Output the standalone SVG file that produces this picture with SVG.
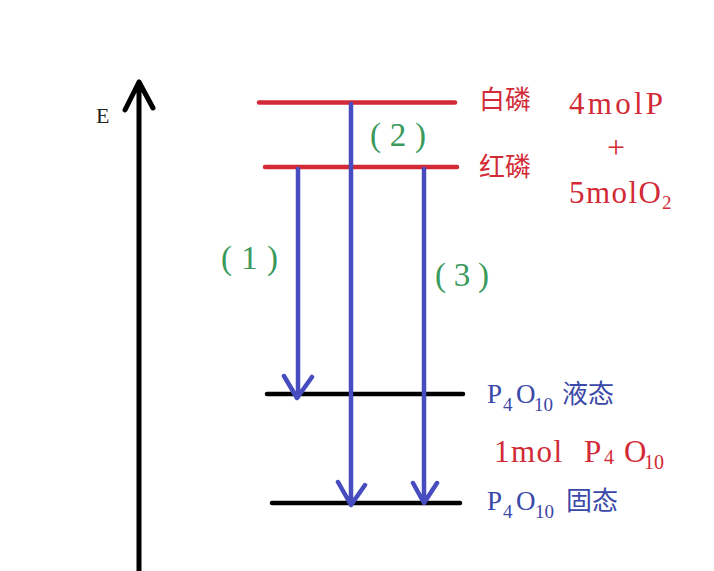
<svg xmlns="http://www.w3.org/2000/svg" width="714" height="571" viewBox="0 0 714 571">
<style>
.ser{font-family:"Liberation Serif","Noto Sans CJK SC",serif;}
.red{fill:#d22a36;}
.blu{fill:#3a48a8;}
.grn{fill:#3a9a5c;}
.lvl{stroke-width:4.5;stroke-linecap:round;fill:none;}
.arr{stroke:#474cbf;stroke-width:4.5;stroke-linecap:round;stroke-linejoin:round;fill:none;}
</style>
<rect width="714" height="571" fill="#ffffff"/>
<g id="axis">
<path d="M139 571 V82 M125 110 L139 82 L153 108" stroke="#000" stroke-width="5" fill="none" stroke-linecap="round" stroke-linejoin="round"/>
<text x="96" y="123" class="ser" font-size="22" fill="#222">E</text>
</g>
<g id="white-p">
<line x1="259" y1="102.5" x2="455" y2="102.5" class="lvl" stroke="#d22a36"/>
<text x="479" y="109" class="ser red" font-size="26">白磷</text>
</g>
<g id="red-p">
<line x1="265" y1="167" x2="457" y2="167" class="lvl" stroke="#d22a36"/>
<text x="479" y="176" class="ser red" font-size="26">红磷</text>
</g>
<g id="reactants">
<text x="569" y="114" class="ser red" font-size="31" textLength="94" lengthAdjust="spacing">4molP</text>
<text x="616" y="158" class="ser red" font-size="32" text-anchor="middle">+</text>
<text x="569" y="203" class="ser red" font-size="31" textLength="92" lengthAdjust="spacing">5molO</text>
<text x="662" y="209" class="ser red" font-size="19">2</text>
</g>
<g id="liquid">
<line x1="267" y1="394" x2="463" y2="394" class="lvl" stroke="#000"/>
<text class="ser blu" font-size="27"><tspan x="487" y="403">P</tspan><tspan x="503" y="411" font-size="19">4</tspan><tspan x="516" y="403">O</tspan><tspan x="534" y="411" font-size="19">10</tspan><tspan x="562" y="403" font-size="26">液态</tspan></text>
</g>
<g id="product">
<text class="ser red" font-size="31"><tspan x="494" y="462" textLength="68" lengthAdjust="spacing">1mol</tspan><tspan x="584" y="462">P</tspan><tspan x="604" y="464" font-size="20">4</tspan><tspan x="624" y="462">O</tspan><tspan x="644" y="469" font-size="20">10</tspan></text>
</g>
<g id="solid">
<line x1="272" y1="503" x2="460" y2="503" class="lvl" stroke="#000"/>
<text class="ser blu" font-size="27"><tspan x="487" y="510">P</tspan><tspan x="503" y="518" font-size="19">4</tspan><tspan x="516" y="510">O</tspan><tspan x="535" y="518" font-size="19">10</tspan><tspan x="566" y="510" font-size="26">固态</tspan></text>
</g>
<g id="connectors">
<path class="arr" d="M298 169 V397 M284 376 L297 398 L312 377"/>
<path class="arr" d="M351 104 V504 M338 482 L351 505 L365 485"/>
<path class="arr" d="M424 169 V502 M413 483 L424 503 L437 483"/>
</g>
<g id="labels">
<text x="221" y="269" class="ser grn" font-size="33" textLength="57" lengthAdjust="spacing">(1)</text>
<text x="370" y="146" class="ser grn" font-size="33" textLength="56" lengthAdjust="spacing">(2)</text>
<text x="435" y="286" class="ser grn" font-size="33" textLength="54" lengthAdjust="spacing">(3)</text>
</g>
</svg>
